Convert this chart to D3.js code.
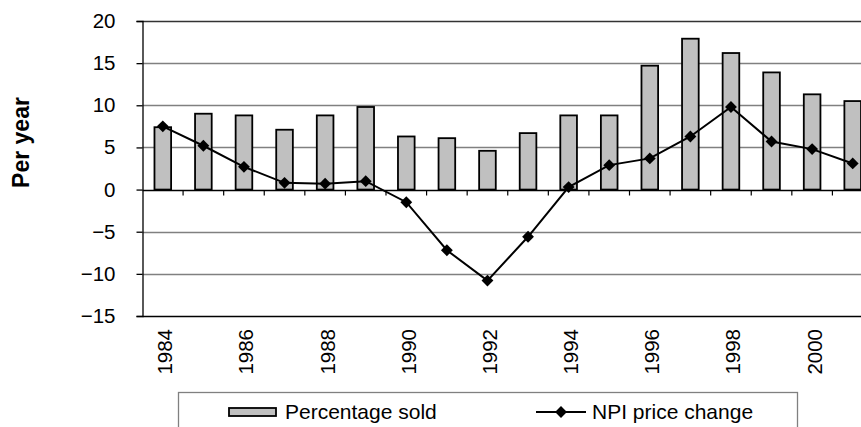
<!DOCTYPE html>
<html>
<head>
<meta charset="utf-8">
<script src="https://cdn.jsdelivr.net/npm/d3@7"></script>
<style>
  body { margin: 0; background: #fff; overflow: hidden; }
  svg { display: block; font-family: "Liberation Sans", Arial, sans-serif; }
</style>
</head>
<body>
<div id="chart"></div>
<script>
const years = [1984, 1985, 1986, 1987, 1988, 1989, 1990, 1991, 1992,
               1993, 1994, 1995, 1996, 1997, 1998, 1999, 2000, 2001];
const pctSold = [7.4, 9.0, 8.8, 7.1, 8.8, 9.8, 6.3, 6.1, 4.6,
                 6.7, 8.8, 8.8, 14.7, 17.9, 16.2, 13.9, 11.3, 10.5];
const npiChange = [7.5, 5.2, 2.7, 0.8, 0.7, 1.0, -1.5, -7.2, -10.8,
                   -5.6, 0.3, 2.9, 3.7, 6.3, 9.8, 5.7, 4.8, 3.1];
const yTicks = [20, 15, 10, 5, 0, -5, -10, -15];
const yearLabels = [1984, 1986, 1988, 1990, 1992, 1994, 1996, 1998, 2000];
const seriesNames = ['Percentage sold', 'NPI price change'];

const width = 861, height = 427;
// plot runs past the right edge of the picture, like the original
const plot = { left: 142.5, right: 873, top: 21, bottom: 316 };

const svg = d3.select('#chart').append('svg')
    .attr('width', width)
    .attr('height', height);

const x = d3.scaleBand()
    .domain(years)
    .range([plot.left, plot.right])
    .padding(0);

const y = d3.scaleLinear()
    .domain([-15, 20])
    .range([plot.bottom, plot.top]);

const barFrac = 0.41;

// gridlines
svg.append('g')
    .selectAll('line')
    .data(yTicks.filter(d => d !== 0 && d !== -15))
    .join('line')
    .attr('x1', plot.left).attr('x2', width)
    .attr('y1', d => Math.round(y(d)) + 0.5)
    .attr('y2', d => Math.round(y(d)) + 0.5)
    .attr('stroke', d => d === 20 ? '#333' : '#808080')
    .attr('stroke-width', 1.3);

// bottom border
svg.append('line')
    .attr('x1', plot.left).attr('x2', width)
    .attr('y1', Math.round(y(-15)) + 0.5).attr('y2', Math.round(y(-15)) + 0.5)
    .attr('stroke', '#000').attr('stroke-width', 1.3);

// bars
const bars = years.map((yr, i) => ({ yr, v: pctSold[i] }));
svg.append('g')
    .selectAll('rect')
    .data(bars)
    .join('rect')
    .attr('x', d => x(d.yr) + x.bandwidth() * (1 - barFrac) / 2)
    .attr('width', x.bandwidth() * barFrac)
    .attr('y', d => y(d.v))
    .attr('height', d => y(0) - y(d.v))
    .attr('fill', '#c0c0c0')
    .attr('stroke', '#000')
    .attr('stroke-width', 1.8);

// y axis
const yAxis = svg.append('g')
    .attr('transform', `translate(${plot.left},0)`)
    .call(d3.axisLeft(y).tickValues(yTicks).tickSize(6).tickPadding(21));
yAxis.select('.domain').attr('stroke', '#000').attr('stroke-width', 1.3);
yAxis.selectAll('.tick line').attr('stroke-width', 1.3);
yAxis.selectAll('.tick text')
    .attr('font-size', 20.5)
    .attr('font-family', '"Liberation Sans", Arial, sans-serif')
    .attr('fill', '#000');

// category axis on zero
const zeroY = Math.round(y(0)) + 0.5;
svg.append('line')
    .attr('x1', plot.left).attr('x2', width)
    .attr('y1', zeroY).attr('y2', zeroY)
    .attr('stroke', '#000').attr('stroke-width', 1.3);

svg.append('g')
    .selectAll('line')
    .data(years.slice(1))
    .join('line')
    .attr('x1', d => x(d)).attr('x2', d => x(d))
    .attr('y1', zeroY).attr('y2', zeroY + 5)
    .attr('stroke', '#000').attr('stroke-width', 1.2);

// year labels, rotated, below the plot
svg.append('g')
    .selectAll('text')
    .data(yearLabels)
    .join('text')
    .attr('transform', d => `translate(${x(d) + x.bandwidth() / 2 + 9.5},${plot.bottom + 13}) rotate(-90)`)
    .attr('text-anchor', 'end')
    .attr('font-size', 20.5)
    .text(d => d);

// NPI line
const pts = years.map((yr, i) => ({ yr, v: npiChange[i] }));
const line = d3.line()
    .x(d => x(d.yr) + x.bandwidth() / 2)
    .y(d => y(d.v));

svg.append('path')
    .datum(pts)
    .attr('d', line)
    .attr('fill', 'none')
    .attr('stroke', '#000')
    .attr('stroke-width', 2);

const diamond = d3.symbol(d3.symbolSquare, 70);
svg.append('g')
    .selectAll('path')
    .data(pts)
    .join('path')
    .attr('d', diamond)
    .attr('transform', d => `translate(${x(d.yr) + x.bandwidth() / 2},${y(d.v)}) rotate(45)`)
    .attr('fill', '#000');

// y title
svg.append('text')
    .attr('transform', 'translate(29,142.5) rotate(-90)')
    .attr('text-anchor', 'middle')
    .attr('font-size', 23)
    .attr('font-weight', 'bold')
    .text('Per year');

// legend
const legend = svg.append('g');
legend.append('rect')
    .attr('x', 178.5).attr('y', 392.5)
    .attr('width', 619).attr('height', 60)
    .attr('fill', '#fff')
    .attr('stroke', '#808080')
    .attr('stroke-width', 1.3);

legend.append('rect')
    .attr('x', 229).attr('y', 408)
    .attr('width', 47).attr('height', 8)
    .attr('fill', '#c0c0c0')
    .attr('stroke', '#000')
    .attr('stroke-width', 1.8);
legend.append('text')
    .attr('x', 285).attr('y', 419)
    .attr('font-size', 21)
    .text(seriesNames[0]);

legend.append('line')
    .attr('x1', 536).attr('x2', 586)
    .attr('y1', 412).attr('y2', 412)
    .attr('stroke', '#000').attr('stroke-width', 2);
legend.append('path')
    .attr('d', diamond)
    .attr('transform', 'translate(561,412) rotate(45)')
    .attr('fill', '#000');
legend.append('text')
    .attr('x', 592).attr('y', 419)
    .attr('font-size', 21)
    .text(seriesNames[1]);
</script>
</body>
</html>
